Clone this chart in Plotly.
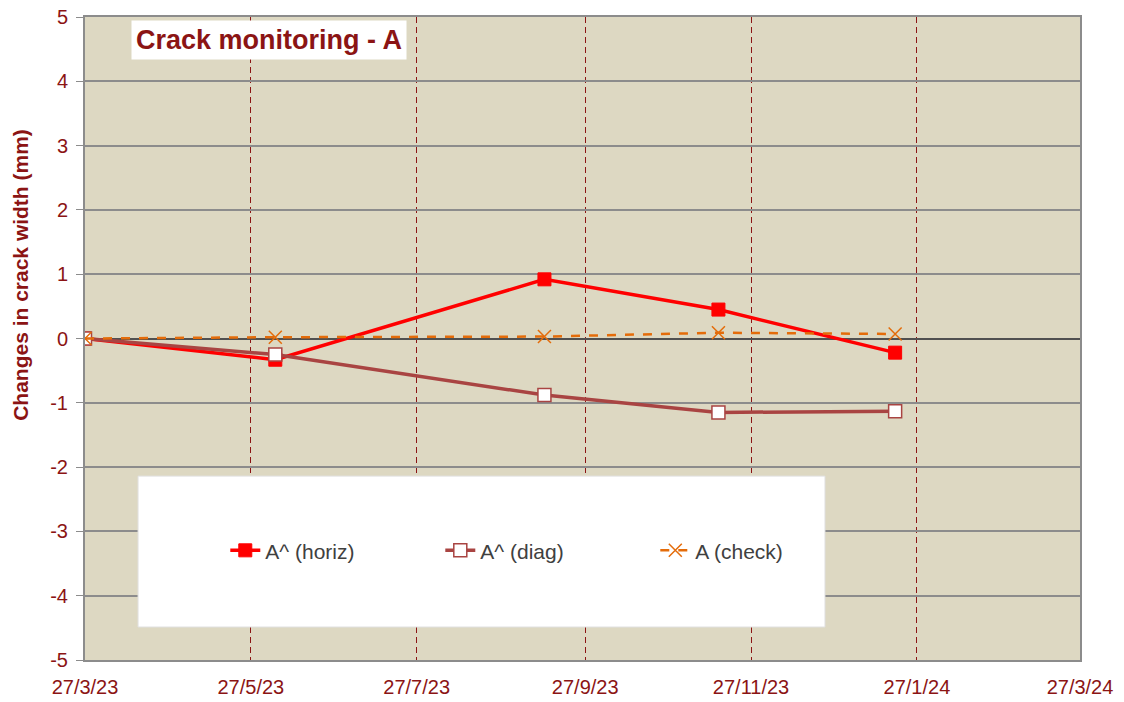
import plotly.graph_objects as go

dates = ["2023-03-27", "2023-06-05", "2023-09-12", "2023-11-15", "2024-01-19"]
horiz = [0.0, -0.33, 0.92, 0.45, -0.22]
diag = [0.0, -0.25, -0.88, -1.15, -1.13]
check = [0.0, 0.02, 0.03, 0.09, 0.07]

tick_vals = ["2023-03-27", "2023-05-27", "2023-07-27", "2023-09-27",
             "2023-11-27", "2024-01-27", "2024-03-27"]
tick_text = ["27/3/23", "27/5/23", "27/7/23", "27/9/23",
             "27/11/23", "27/1/24", "27/3/24"]
y_vals = [-5, -4, -3, -2, -1, 0, 1, 2, 3, 4, 5]
y_text = ["-5", "-4", "-3", "-2", "-1", "0", "1", "2", "3", "4", "5"]

DR = "#8B1414"
FONT = "Liberation Sans, Arial, sans-serif"

fig = go.Figure()
fig.add_trace(go.Scatter(
    x=dates, y=horiz, name="A^ (horiz)", mode="lines+markers",
    line=dict(color="#FF0000", width=3.5),
    marker=dict(symbol="square", size=13, color="#FF0000",
                line=dict(color="#FF0000", width=1))))
fig.add_trace(go.Scatter(
    x=dates, y=diag, name="A^ (diag)", mode="lines+markers",
    line=dict(color="#A94442", width=3.5),
    marker=dict(symbol="square", size=13, color="white",
                line=dict(color="#A94442", width=1.5))))
fig.add_trace(go.Scatter(
    x=dates, y=check, name="A (check)", mode="lines+markers",
    line=dict(color="#E46C0A", width=2.5, dash="dash"),
    marker=dict(symbol="x-thin", size=13, color="#E46C0A",
                line=dict(color="#E46C0A", width=1.5))))

fig.add_shape(type="rect", xref="paper", yref="paper",
              x0=0.0533, x1=0.7437, y0=0.0513, y1=0.286,
              fillcolor="white", line=dict(color="#E0E0E0", width=1),
              layer="above")

fig.add_annotation(xref="paper", yref="paper", x=0.0462, y=0.9635,
                   xanchor="left", yanchor="middle",
                   text="<b>Crack monitoring - A</b>", showarrow=False,
                   font=dict(family=FONT, size=27, color=DR),
                   bgcolor="white", borderpad=4)

fig.add_annotation(xref="paper", yref="paper", x=-0.0643, y=0.599,
                   xanchor="center", yanchor="middle", textangle=-90,
                   text="<b>Changes in crack width (mm)</b>", showarrow=False,
                   font=dict(family=FONT, size=21, color=DR))

fig.update_layout(
    width=1116, height=694,
    margin=dict(l=77, r=44, t=9, b=42, autoexpand=False),
    paper_bgcolor="white", plot_bgcolor="#DDD8C2",
    font=dict(family=FONT, color=DR),
    showlegend=True,
    legend=dict(orientation="h", x=0.141, y=0.17, xanchor="left",
                yanchor="middle", bgcolor="rgba(0,0,0,0)",
                font=dict(family=FONT, size=21, color="#404040"),
                entrywidth=170, entrywidthmode="pixels"),
)
fig.update_xaxes(
    type="date", range=["2023-03-27", "2024-03-27"],
    tickvals=tick_vals, ticktext=tick_text, automargin=False,
    ticklabeloverflow="allow",
    tickfont=dict(family=FONT, size=20, color=DR),
    showgrid=True, gridcolor=DR, griddash="6px,4px", gridwidth=1,
    showline=True, linecolor="#8C8C8C", linewidth=2, mirror=True,
    ticks="", zeroline=False, ticklabelstandoff=8)
fig.update_yaxes(
    range=[-5, 5], tickvals=y_vals, ticktext=y_text, automargin=False,
    ticklabeloverflow="allow",
    tickfont=dict(family=FONT, size=20, color=DR),
    showgrid=True, gridcolor="#8C8C8C", gridwidth=1.5,
    zeroline=True, zerolinecolor="#505050", zerolinewidth=1.5,
    showline=True, linecolor="#8C8C8C", linewidth=2, mirror=True,
    ticks="outside", ticklen=7, tickcolor="#8C8C8C", ticklabelstandoff=4)

fig.write_html("out.html")
